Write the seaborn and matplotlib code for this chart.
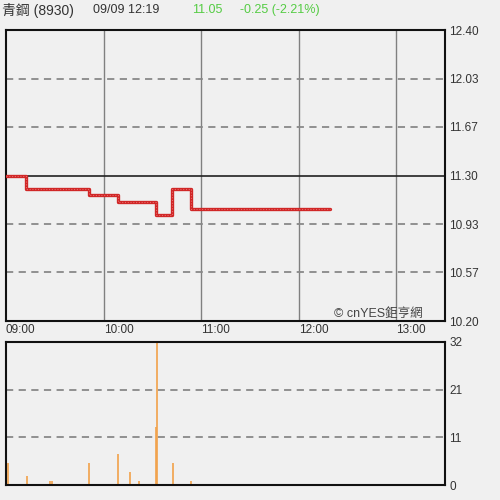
import matplotlib
matplotlib.use("Agg")
import matplotlib.pyplot as plt
import seaborn as sns
import pandas as pd

# price change points (minutes after 09:00) and price
price_min = [0, 12, 51, 69, 92, 102, 114, 199]
price_val = [11.30, 11.20, 11.15, 11.10, 11.00, 11.20, 11.05, 11.05]

# volume ticks (minutes after 09:00)
vol_min = [0, 1, 13, 27, 28, 51, 69, 76, 82, 92, 93, 103, 114]
vol_val = [5, 5, 2, 1, 1, 5, 7, 3, 1, 13, 32, 5, 1]

price_ticks = [10.20, 10.567, 10.933, 11.30, 11.667, 12.033, 12.40]
price_labels = ["10.20", "10.57", "10.93", "11.30", "11.67", "12.03", "12.40"]
vol_ticks = [0, 32 / 3, 64 / 3, 32]
vol_labels = ["0", "11", "21", "32"]
time_ticks = [0, 60, 120, 180, 240]
time_labels = ["09:00", "10:00", "11:00", "12:00", "13:00"]
prev_close = 11.30

sns.set_style("white")
plt.rcParams['font.family'] = ['Liberation Sans', 'Noto Sans CJK TC', 'DejaVu Sans']
bg = '#f0f0f0'

fig = plt.figure(figsize=(5, 5), dpi=100, facecolor=bg)
ax = fig.add_axes([0.012, 0.358, 0.878, 0.582], facecolor=bg)
ax2 = fig.add_axes([0.012, 0.03, 0.878, 0.286], facecolor=bg)

df = pd.DataFrame({'t': price_min, 'p': price_val})
sns.lineplot(data=df, x='t', y='p', ax=ax, color='#d02626', linewidth=2.4,
             drawstyle='steps-post', zorder=5)
sns.lineplot(data=df, x='t', y='p', ax=ax, color='#e86a6a', linewidth=0.8,
             drawstyle='steps-post', linestyle=(0, (1, 1.5)), zorder=6)

ax.set_xlim(0, 270)
ax.set_ylim(10.20, 12.40)
for t in time_ticks[1:]:
    ax.axvline(t, color='#808080', linewidth=1, zorder=1)
for y in price_ticks[1:-1]:
    if abs(y - prev_close) < 1e-6:
        ax.axhline(y, color='#222222', linewidth=1.2, zorder=2)
    else:
        ax.axhline(y, color='#888888', linewidth=1.3, linestyle=(0, (4, 3)), zorder=2)

ax.set_xticks(time_ticks)
ax.set_xticklabels(time_labels, ha='left')
ax.set_yticks(price_ticks)
ax.set_yticklabels(price_labels)
ax.yaxis.tick_right()
ax.tick_params(axis='both', length=0, labelsize=8.5, colors='#333333')
ax.tick_params(axis='x', pad=2)
ax.tick_params(axis='y', pad=3)
ax.set_xlabel('')
ax.set_ylabel('')
for s in ax.spines.values():
    s.set_color('#111111')
    s.set_linewidth(1.5)
ax.text(0.95, 0.005, '© cnYES鉅亨網', transform=ax.transAxes, ha='right',
        va='bottom', fontsize=9, color='#444444')

ax2.vlines(vol_min, 0, vol_val, color='#f2a14a', linewidth=1.2)
ax2.set_xlim(0, 270)
ax2.set_ylim(0, 32)
for y in vol_ticks[1:-1]:
    ax2.axhline(y, color='#888888', linewidth=1.3, linestyle=(0, (4, 3)), zorder=0)
ax2.set_xticks([])
ax2.set_yticks(vol_ticks)
ax2.set_yticklabels(vol_labels)
ax2.yaxis.tick_right()
ax2.tick_params(axis='y', length=0, labelsize=8.5, colors='#333333', pad=3)
for s in ax2.spines.values():
    s.set_color('#111111')
    s.set_linewidth(1.5)

fig.text(0.004, 0.98, '青鋼 (8930)', fontsize=10, color='#333333', va='center')
fig.text(0.186, 0.98, '09/09 12:19', fontsize=9, color='#333333', va='center')
fig.text(0.384, 0.98, '11.05', fontsize=9, color='#55cc44', va='center')
fig.text(0.48, 0.98, '-0.25 (-2.21%)', fontsize=9, color='#55cc44', va='center')

fig.savefig('out.png', dpi=100, facecolor=bg)
